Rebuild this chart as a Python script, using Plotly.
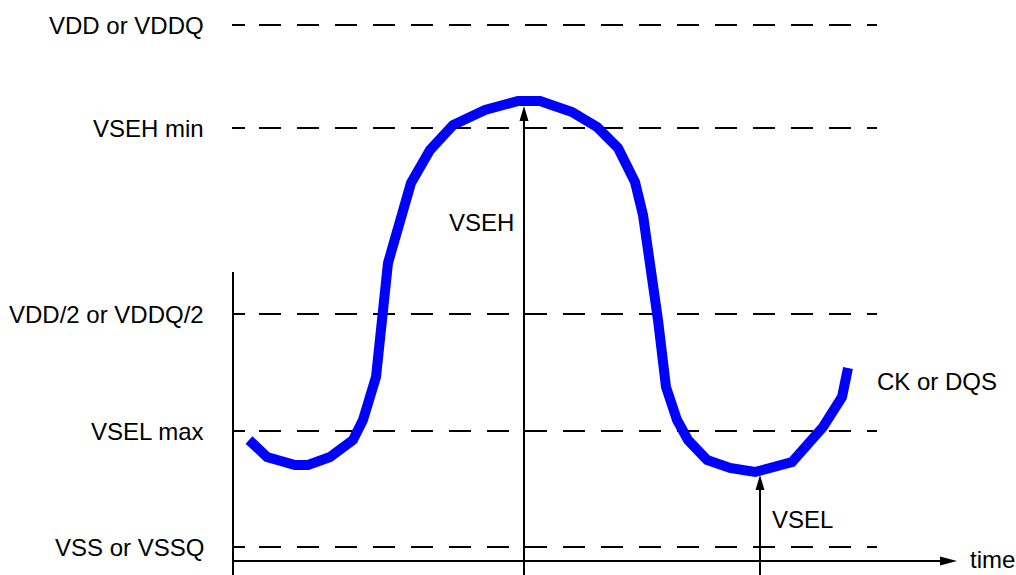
import plotly.graph_objects as go

# ---- data (time units, signal level units; screen-like scale) ----
wave_t = [249, 267, 295, 308, 330, 353, 363, 376, 388, 400, 411, 430, 453, 485, 518,
          540, 572, 597, 618, 635, 643, 658, 666, 677, 688, 707, 730, 755, 792, 823, 842, 848]
wave_v = [135, 118, 110, 110, 118, 135, 155, 198, 312, 352, 392, 425, 450, 465, 474,
          474, 463, 448, 427, 393, 360, 255, 188, 155, 135, 115, 107, 103, 113, 148, 178, 207]

level_names = ["VDD or VDDQ", "VSEH min", "VDD/2 or VDDQ/2", "VSEL max", "VSS or VSSQ"]
level_values = [550, 447, 261, 144, 28]

t_start, t_end = 233, 957        # time axis extent
t_dash_start, t_dash_end = 232, 877
time_axis_level = 14
v_axis_top = 303
vseh_t, vseh_tip = 524, 469
vsel_t, vsel_tip = 760, 100

FONT = "Liberation Sans, Arial, sans-serif"
fig = go.Figure()

# dashed reference levels
for name, v in zip(level_names, level_values):
    fig.add_trace(go.Scatter(x=[t_dash_start, t_dash_start + 13], y=[v, v], mode="lines",
                             line=dict(color="black", width=2), hoverinfo="skip"))
    fig.add_trace(go.Scatter(x=[t_dash_start + 27, t_dash_end], y=[v, v], mode="lines",
                             line=dict(color="black", width=2, dash="22px,16px"),
                             hoverinfo="skip"))
    fig.add_annotation(x=206, y=v, text=name, showarrow=False, xanchor="right",
                       yanchor="middle", font=dict(family=FONT, size=24, color="black"))

# axes
fig.add_trace(go.Scatter(x=[t_start, t_end - 12], y=[time_axis_level, time_axis_level],
                         mode="lines", line=dict(color="black", width=2), hoverinfo="skip"))
fig.add_trace(go.Scatter(x=[t_start, t_start], y=[0, v_axis_top], mode="lines",
                         line=dict(color="black", width=2), hoverinfo="skip"))
# VSEH / VSEL arrows
fig.add_trace(go.Scatter(x=[vseh_t, vseh_t], y=[0, vseh_tip - 8], mode="lines",
                         line=dict(color="black", width=2), hoverinfo="skip"))
fig.add_trace(go.Scatter(x=[vsel_t, vsel_t], y=[0, vsel_tip - 8], mode="lines",
                         line=dict(color="black", width=2), hoverinfo="skip"))

# waveform
fig.add_trace(go.Scatter(x=wave_t, y=wave_v, mode="lines",
                         line=dict(color="#0000ff", width=10), hoverinfo="skip"))

# arrowheads
for (ax, ay, path) in [(vseh_t, vseh_tip, "M0,0 L-4.5,-15 L4.5,-15 Z"),
                       (vsel_t, vsel_tip, "M0,0 L-4.5,-15 L4.5,-15 Z"),
                       (t_end, time_axis_level, "M0,0 L-17,4.5 L-17,-4.5 Z")]:
    fig.add_shape(type="path", xref="x", yref="y", xsizemode="pixel", ysizemode="pixel",
                  xanchor=ax, yanchor=ay, path=path, fillcolor="black",
                  line=dict(width=0))

labels = [("VSEH", 447, 353), ("VSEL", 770, 56), ("CK or DQS", 875, 194), ("time", 968, 16)]
for txt, x, y in labels:
    fig.add_annotation(x=x, y=y, text=txt, showarrow=False, xanchor="left",
                       yanchor="middle", font=dict(family=FONT, size=24, color="black"))

fig.update_layout(width=1016, height=575, autosize=False,
                  margin=dict(l=0, r=0, t=0, b=0),
                  paper_bgcolor="white", plot_bgcolor="white", showlegend=False,
                  xaxis=dict(range=[0, 1016], visible=False, fixedrange=True),
                  yaxis=dict(range=[0, 575], visible=False, fixedrange=True))

fig.write_html("out.html", config={"displayModeBar": False},
               post_script="document.body.style.margin='0';document.body.style.overflow='hidden';")
